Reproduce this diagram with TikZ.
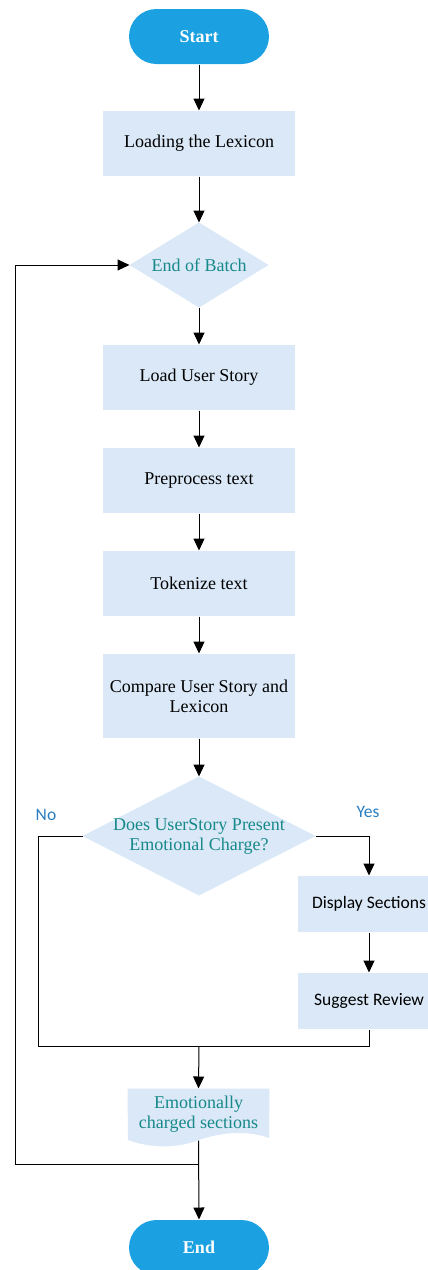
\documentclass[tikz,border=0pt]{standalone}
\usepackage{fontspec}
\setmainfont{Liberation Serif}
\newfontfamily\calfont{Carlito}
\usetikzlibrary{arrows.meta,backgrounds}
\definecolor{termblue}{HTML}{1BA1E2}
\definecolor{boxblue}{HTML}{DAE8F7}
\definecolor{tealtxt}{HTML}{17898A}
\definecolor{labblue}{HTML}{2A7DC0}
\newcommand\fsz{\fontsize{18}{20}\selectfont}
\newcommand\fszs{\fontsize{17.5}{20}\selectfont}
\begin{document}
\begin{tikzpicture}[x=1pt,y=-1pt,line width=1pt,
  >={Triangle[length=12pt,width=11pt]},
  term/.style={rectangle,rounded corners=27.5pt,fill=termblue,text=white,font=\fsz\bfseries,minimum width=140pt,minimum height=55pt,inner sep=0pt},
  proc/.style={rectangle,fill=boxblue,minimum width=192pt,minimum height=65pt,inner sep=0pt,align=center,font=\fsz},
  sideproc/.style={rectangle,fill=boxblue,minimum width=142pt,minimum height=56pt,inner sep=0pt,align=center,font=\fszs\calfont},
  decbox/.style={rectangle,inner sep=0pt,align=center,text=tealtxt,font=\fsz},
  docbox/.style={rectangle,inner sep=0pt,align=center,text=tealtxt,font=\fsz,minimum width=141pt,minimum height=51pt},
  lab/.style={font=\fszs\calfont,text=labblue,inner sep=0pt}]
\useasboundingbox (0,0) rectangle (428,1270);
\node[term] (start) at (199,36.5) {Start};
\node[proc] (lex) at (199,143.5) {Loading the Lexicon};
\node[decbox,minimum width=138pt,minimum height=84pt] (d1) at (199,265) {End of Batch};
\node[proc] (lus) at (199,377.5) {Load User Story};
\node[proc] (pre) at (199,480.5) {Preprocess text};
\node[proc] (tok) at (199,583.5) {Tokenize text};
\node[proc,minimum height=84pt] (cmp) at (199,696) {Compare User Story and\\Lexicon};
\node[decbox,minimum width=232pt,minimum height=118pt] (d2) at (199,836) {Does UserStory Present\\Emotional Charge?};
\node[sideproc] (disp) at (369,904) {Display Sections};
\node[sideproc] (sugg) at (369,1001) {Suggest Review};
\node[docbox] (doc) at (198.5,1114.5) {Emotionally\\charged sections};
\node[term] (end) at (199,1247.5) {End};
\node[lab] (yes) at (368,812) {Yes};
\node[lab] (no) at (46,815) {No};
\coordinate (m1) at (199,1046);
\coordinate (nl) at (38,1046);
\coordinate (j2) at (199,1164);
\coordinate (lp) at (15,1164);
\begin{scope}[on background layer]
\fill[boxblue] (d1.north) -- (d1.east) -- (d1.south) -- (d1.west) -- cycle;
\fill[boxblue] (d2.north) -- (d2.east) -- (d2.south) -- (d2.west) -- cycle;
\fill[boxblue] (doc.north west) -- (doc.north east) -- (269,1138)
  .. controls (250,1131) and (225,1131) .. (199,1140)
  .. controls (175,1149) and (150,1148) .. (128,1140) -- cycle;
\end{scope}
\draw[->] (start) -- (lex);
\draw[->] (lex) -- (d1);
\draw[->] (d1) -- (lus);
\draw[->] (lus) -- (pre);
\draw[->] (pre) -- (tok);
\draw[->] (tok) -- (cmp);
\draw[->] (cmp) -- (d2);
\draw[->] (d2.east) -| (disp.north);
\draw[->] (disp) -- (sugg);
\draw (sugg.south) |- (nl) |- (d2.west);
\draw[->] (m1) -- (doc.north);
\draw[->] (doc.south) -- (end.north);
\draw[->] (j2) -- (lp) |- (d1.west);
\end{tikzpicture}
\end{document}
